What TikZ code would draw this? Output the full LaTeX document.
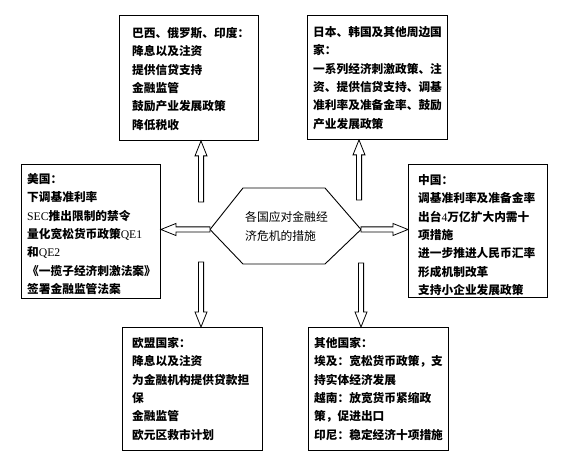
\documentclass[tikz,border=0pt]{standalone}
\usepackage{fontspec}
\setmainfont{Liberation Serif}
\newfontfamily\cjk{Noto Sans CJK SC}
\usetikzlibrary{calc}
\tikzset{
  box/.style={draw, line width=0.9pt, inner sep=0pt, anchor=north west},
  txt/.style={anchor=base west, inner sep=0pt, align=left,
    font=\fontsize{11.7}{18.4}\selectfont\cjk\bfseries},
  hextxt/.style={anchor=base west, inner sep=0pt, align=left,
    font=\fontsize{11.8}{19}\selectfont\cjk},
  arrowline/.style={draw, line width=0.8pt, fill=white, line join=miter},
  hexline/.style={draw, line width=0.9pt, line join=miter},
}
\newcommand\lat[1]{{\rmfamily\mdseries #1}}
\newcommand\hollowarrow[2]{%
  \coordinate (hb) at ($(#2)!15pt!(#1)$);
  \draw[arrowline] ($(#1)!2.6pt!90:(#2)$) -- ($(hb)!2.6pt!90:(#2)$)
    -- ($(hb)!6pt!90:(#2)$) -- (#2) -- ($(hb)!6pt!-90:(#2)$)
    -- ($(hb)!2.6pt!-90:(#2)$) -- ($(#1)!2.6pt!-90:(#2)$) -- cycle;}
\begin{document}
\begin{tikzpicture}[x=1pt,y=-1pt]
\useasboundingbox (0,0) rectangle (566,462);

% boxes
\node[box, minimum width=139pt, minimum height=125pt] (tl) at (119,15) {};
\node[box, minimum width=140pt, minimum height=124pt] (tr) at (307,15) {};
\node[box, minimum width=139pt, minimum height=134pt] (lb) at (21,164) {};
\node[box, minimum width=139pt, minimum height=133pt] (rb) at (408,164) {};
\node[box, minimum width=140pt, minimum height=123pt] (bl) at (122,327) {};
\node[box, minimum width=140pt, minimum height=123pt] (br) at (308,327) {};

% texts (anchored at the baseline of their last line)
\node[txt] (tlt) at (132,129.4) {巴西、俄罗斯、印度：\\降息以及注资\\提供信贷支持\\金融监管\\鼓励产业发展政策\\降低税收};
\node[txt] (trt) at (313,128.4) {日本、韩国及其他周边国\\家：\\一系列经济刺激政策、注\\资、提供信贷支持、调基\\准利率及准备金率、鼓励\\产业发展政策};
\node[txt] (lbt) at (27,293.8) {美国：\\下调基准利率\\\lat{SEC}推出限制的禁令\\量化宽松货币政策\lat{QE1}\\和\lat{QE2}\\《一揽子经济刺激法案》\\签署金融监管法案};
\node[txt] (rbt) at (418,294.8) {中国：\\调基准利率及准备金率\\出台\lat{4}万亿扩大内需十\\项措施\\进一步推进人民币汇率\\形成机制改革\\支持小企业发展政策};
\node[txt] (blt) at (132,439.4) {欧盟国家：\\降息以及注资\\为金融机构提供贷款担\\保\\金融监管\\欧元区救市计划};
\node[txt] (brt) at (314,439.4) {其他国家：\\埃及：宽松货币政策，支\\持实体经济发展\\越南：放宽货币紧缩政\\策，促进出口\\印尼：稳定经济十项措施};

% hexagon
\coordinate (h1) at (210,229.5);
\coordinate (h2) at (243,188);
\coordinate (h3) at (325,188);
\coordinate (h4) at (361,229.5);
\coordinate (h5) at (325,264);
\coordinate (h6) at (243,264);
\draw[hexline] (h1) -- (h2) -- (h3) -- (h4) -- (h5) -- (h6) -- cycle;
\node[hextxt] (hex) at (245,240.4) {各国应对金融经\\济危机的措施};

% arrow anchors
\coordinate (a1) at (201,202);
\coordinate (a2) at (359,200);
\coordinate (a5) at (201,262);
\coordinate (a6) at (361,263);

\hollowarrow{a1}{a1 |- tl.south}
\hollowarrow{a2}{a2 |- tr.south}
\hollowarrow{h1}{h1 -| lb.east}
\hollowarrow{h4}{h4 -| rb.west}
\hollowarrow{a5}{a5 |- bl.north}
\hollowarrow{a6}{a6 |- br.north}
\end{tikzpicture}
\end{document}
